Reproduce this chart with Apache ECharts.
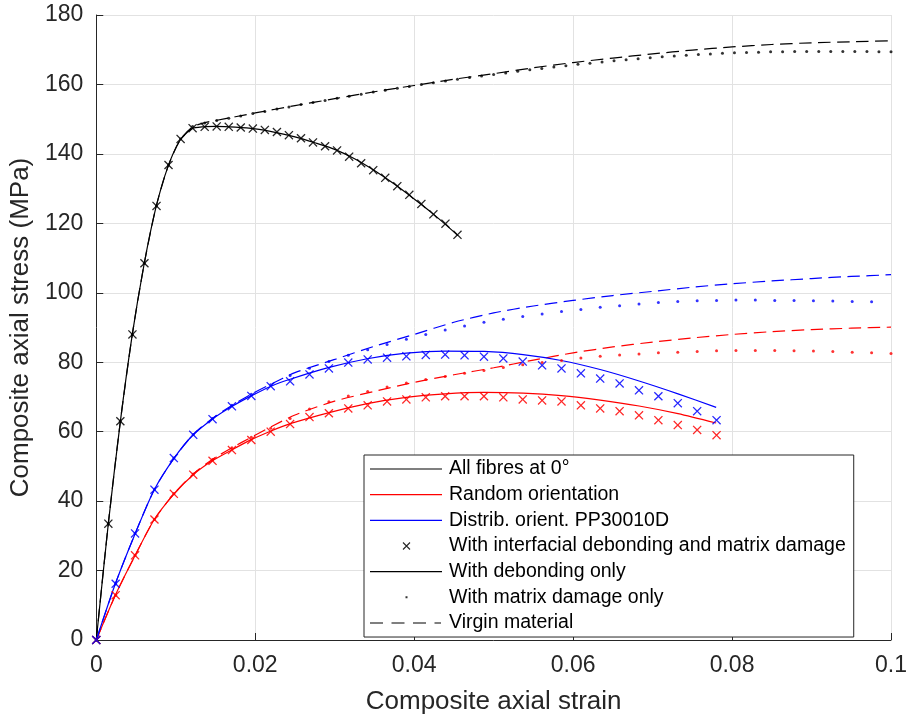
<!DOCTYPE html>
<html lang="en">
<head>
  <meta charset="UTF-8">
  <title>Composite axial stress vs strain</title>
  <script src="https://cdn.jsdelivr.net/npm/echarts@6/dist/echarts.min.js"></script>
  <style>html, body { margin: 0; padding: 0; background: #fff; }</style>
</head>
<body>
  <div id="app" style="width: 912px; height: 720px;"></div>
  <script>
    // strain sample points
    var xBlack = [0, 0.00152, 0.00303, 0.00455, 0.00606, 0.00758, 0.00909, 0.01061, 0.01212, 0.01364,
      0.01515, 0.01667, 0.01818, 0.0197, 0.02121, 0.02273, 0.02424, 0.02576, 0.02727, 0.02879,
      0.0303, 0.03182, 0.03333, 0.03485, 0.03636, 0.03788, 0.03939, 0.04091, 0.04242, 0.04394,
      0.04545, 0.04697, 0.04848, 0.05, 0.05152, 0.05303, 0.05455, 0.05606, 0.05758, 0.05909,
      0.06061, 0.06212, 0.06364, 0.06515, 0.06667, 0.06818, 0.0697, 0.07121, 0.07273, 0.07424,
      0.07576, 0.07727, 0.07879, 0.0803, 0.08182, 0.08333, 0.08485, 0.08636, 0.08788, 0.08939,
      0.09091, 0.09242, 0.09394, 0.09545, 0.09697, 0.09848, 0.1]
    var xColor = [0, 0.00244, 0.00488, 0.00732, 0.00976, 0.0122, 0.01463, 0.01707, 0.01951, 0.02195,
      0.02439, 0.02683, 0.02927, 0.03171, 0.03415, 0.03659, 0.03902, 0.04146, 0.0439, 0.04634,
      0.04878, 0.05122, 0.05366, 0.0561, 0.05854, 0.06098, 0.06341, 0.06585, 0.06829, 0.07073,
      0.07317, 0.07561, 0.07805, 0.08049, 0.08293, 0.08537, 0.0878, 0.09024, 0.09268, 0.09512,
      0.09756, 0.1]
    var xLineA = [0, 0.0015, 0.003, 0.0045, 0.006, 0.0075, 0.009, 0.0105, 0.012, 0.0135, 0.015, 0.0175,
      0.02, 0.0225, 0.025, 0.0275, 0.03, 0.0325, 0.035, 0.0375, 0.04, 0.0425, 0.0455]
    var xVirginBlack = [0, 0.0015, 0.003, 0.0045, 0.006, 0.0075, 0.009, 0.0105, 0.012, 0.0135, 0.015,
      0.0175, 0.02, 0.025, 0.03, 0.035, 0.04, 0.045, 0.05, 0.055, 0.06, 0.065, 0.07, 0.075, 0.08,
      0.085, 0.09, 0.095, 0.1]
    var xDebondColor = [0, 0.0024, 0.0049, 0.0073, 0.0098, 0.0122, 0.0146, 0.0171, 0.0195, 0.022, 0.0244,
      0.0293, 0.0341, 0.039, 0.0439, 0.0488, 0.0537, 0.0585, 0.0634, 0.0683, 0.0732, 0.078]
    var xVirginColor = [0, 0.0024, 0.0049, 0.0073, 0.0098, 0.0122, 0.0146, 0.0171, 0.0195, 0.022, 0.025,
      0.03, 0.035, 0.04, 0.045, 0.05, 0.055, 0.06, 0.065, 0.07, 0.075, 0.08, 0.085, 0.09, 0.095, 0.1]

    // all fibres at 0 deg
    var blackBoth = [0, 33.5, 63, 88, 108.5, 125, 136.8, 144.3, 147.4, 147.8, 147.9, 147.8, 147.6, 147.3,
      146.9, 146.3, 145.4, 144.5, 143.3, 142.2, 141, 139.2, 137.3, 135.3, 133.1, 130.7, 128.2, 125.6,
      122.6, 119.9, 116.7]
    var blackDebond = [0, 33.2, 62.4, 87.5, 108, 124.5, 136.2, 143.8, 147.2, 147.8, 147.9, 147.7, 147.2,
      146.2, 144.9, 143.2, 141.3, 138.6, 135.2, 131.3, 127, 122.5, 116.5]
    var blackMatrix = [0, 33.5, 63, 88, 108.5, 125, 136.8, 144.3, 147.9, 148.9, 149.6, 150.3, 150.9,
      151.6, 152.2, 152.9, 153.5, 154.2, 154.8, 155.4, 156.0, 156.6, 157.2, 157.8, 158.3, 158.9, 159.4,
      160.0, 160.5, 161.0, 161.5, 162.0, 162.4, 162.9, 163.3, 163.8, 164.2, 164.6, 165.0, 165.4, 165.8,
      166.1, 166.5, 166.8, 167.1, 167.4, 167.7, 168.0, 168.2, 168.4, 168.6, 168.8, 169.0, 169.1, 169.2,
      169.3, 169.4, 169.4, 169.5, 169.5, 169.5, 169.5, 169.5, 169.5, 169.5, 169.4, 169.4]
    var blackVirgin = [0, 33.2, 62.4, 87.5, 108, 124.5, 136.2, 143.8, 147.6, 148.9, 149.6, 150.7, 151.8,
      153.9, 155.9, 157.9, 159.7, 161.5, 163.1, 164.8, 166.3, 167.6, 168.8, 169.9, 170.8, 171.5, 172.0,
      172.3, 172.6]

    // random orientation
    var redBoth = [0, 12.9, 24.4, 34.7, 42.1, 47.6, 51.6, 54.7, 57.6, 60.0, 62.2, 64.2, 65.3, 66.7, 67.6,
      68.7, 69.3, 69.9, 70.2, 70.2, 70.2, 69.9, 69.3, 69.0, 68.7, 67.6, 66.7, 65.9, 64.7, 63.3, 61.9,
      60.5, 59.0]
    var redDebond = [0, 12.9, 24.4, 34.7, 42.1, 47.6, 51.6, 54.8, 57.7, 60.2, 62.3, 65.5, 68.1, 69.9,
      70.9, 71.3, 71.1, 70.4, 69.1, 67.4, 65.2, 62.5]
    var redMatrix = [0, 12.9, 24.4, 34.7, 42.2, 47.8, 52.0, 55.4, 58.4, 61.0, 63.8, 66.5, 68.6, 70.3,
      71.6, 72.9, 74.0, 75.0, 75.9, 76.8, 77.6, 78.5, 79.3, 79.9, 80.5, 81.2, 81.7, 82.1, 82.4, 82.7,
      82.9, 83.1, 83.3, 83.4, 83.4, 83.4, 83.3, 83.2, 83.1, 82.9, 82.7, 82.5]
    var redVirgin = [0, 12.9, 24.4, 34.7, 42.2, 47.8, 52.0, 55.4, 58.4, 61.4, 64.8, 68.8, 71.6, 74.2,
      76.4, 78.4, 80.6, 82.7, 84.4, 85.8, 87.0, 88.0, 88.8, 89.4, 89.8, 90.1]

    // distributed orientation PP30010D
    var blueBoth = [0, 16.2, 30.7, 43.3, 52.4, 59.1, 63.6, 67.3, 70.3, 73.1, 74.5, 76.5, 78.2, 79.9,
      80.8, 81.3, 81.7, 82.1, 82.2, 82.0, 81.6, 81.1, 80.2, 79.1, 78.2, 76.8, 75.3, 73.9, 71.9, 70.2,
      68.2, 65.9, 63.3]
    var blueDebond = [0, 16.2, 30.7, 43.3, 52.4, 59.1, 63.6, 67.3, 70.3, 73.1, 75.1, 78.5, 81, 82.6,
      83.2, 83.1, 82.2, 80.5, 77.9, 74.6, 70.9, 67]
    var blueMatrix = [0, 16.2, 30.7, 43.3, 52.4, 59.2, 63.8, 67.6, 70.8, 73.5, 76.2, 78.3, 80.2, 82.0,
      83.6, 85.1, 86.6, 88.0, 89.3, 90.4, 91.5, 92.4, 93.2, 93.9, 94.6, 95.2, 95.8, 96.3, 96.8, 97.2,
      97.5, 97.7, 97.8, 97.9, 97.9, 97.8, 97.8, 97.7, 97.6, 97.5, 97.4]
    var blueVirgin = [0, 16.2, 30.7, 43.3, 52.4, 59.2, 63.8, 67.6, 70.8, 73.7, 77.0, 80.8, 84.6, 88.0,
      91.5, 94.2, 96.2, 97.8, 99.2, 100.4, 101.6, 102.6, 103.4, 104.1, 104.7, 105.2]

    var xTicks = [0, 0.02, 0.04, 0.06, 0.08, 0.1]
    var legendNames = ['All fibres at 0°', 'Random orientation', 'Distrib. orient. PP30010D',
      'With interfacial debonding and matrix damage', 'With debonding only',
      'With matrix damage only', 'Virgin material']

    var font = "'Liberation Sans', Arial, sans-serif"
    var axisColor = '#262626'
    var crossSymbol = 'path://M0,1L1,0L5,4L9,0L10,1L6,5L10,9L9,10L5,6L1,10L0,9L4,5Z'

    // legend icons, box 74 x 14 (tiny corner marks fix the box size)
    var box = 'M0,0h0.01v0.01z M74,14h-0.01v-0.01z '
    var iconLine = 'path://' + box + 'M0,6.4H72V7.6H0Z'
    var iconDash = 'path://' + box + 'M0,6.4H13V7.6H0Z M21.5,6.4H34.5V7.6H21.5Z M43,6.4H56V7.6H43Z M64.5,6.4H71V7.6H64.5Z'
    var iconCross = 'path://' + box + 'M33.4,3.1L40.4,10.1L39.6,10.9L32.6,3.9Z M40.4,3.9L33.4,10.9L32.6,10.1L39.6,3.1Z'
    var iconDot = 'path://' + box + 'M35.5,6H37.5V8H35.5Z'

    function pairs(xs, ys) {
      var out = []
      for (var i = 0; i < ys.length; i++) out.push([xs[i], ys[i]])
      return out
    }

    function solid(name, color, xs, ys) {
      return {
        name: name, type: 'line', data: pairs(xs, ys), symbol: 'none', smooth: 0.25,
        color: color, lineStyle: { color: color, width: 1.2 }, z: 2
      }
    }
    function dashed(name, color, xs, ys) {
      return {
        name: name, type: 'line', data: pairs(xs, ys), symbol: 'none', smooth: 0.25,
        color: color, lineStyle: { color: color, width: 1.2, type: [12.5, 6.5] }, z: 2
      }
    }
    function crosses(name, color, xs, ys) {
      return {
        name: name, type: 'scatter', data: pairs(xs, ys), symbol: crossSymbol, symbolSize: 9,
        color: color, itemStyle: { color: color, opacity: 0.85 }, z: 4
      }
    }
    function dots(name, color, xs, ys) {
      return {
        name: name, type: 'scatter', data: pairs(xs, ys), symbol: 'circle', symbolSize: 3,
        color: color, itemStyle: { color: color }, z: 3
      }
    }

    var chart = echarts.init(document.getElementById('app'))
    var option = {
      animation: false,
      backgroundColor: '#fff',
      grid: { left: 96, right: 21, top: 15, bottom: 77 },
      xAxis: {
        type: 'value', min: 0, max: 0.1, interval: 0.02,
        name: 'Composite axial strain', nameLocation: 'middle', nameGap: 49,
        nameTextStyle: { fontSize: 26, color: axisColor, fontFamily: font },
        axisLine: { lineStyle: { color: axisColor, width: 1 } },
        axisTick: { inside: true, length: 7, lineStyle: { color: axisColor } },
        axisLabel: {
          margin: 14, fontSize: 23, color: axisColor, fontFamily: font,
          formatter: function (v) {
            for (var i = 0; i < xTicks.length; i++) if (Math.abs(v - xTicks[i]) < 1e-9) return String(xTicks[i])
            return ''
          }
        },
        splitLine: { show: true, lineStyle: { color: '#e2e2e2', width: 1 } }
      },
      yAxis: {
        type: 'value', min: 0, max: 180, interval: 20,
        name: 'Composite axial stress (MPa)', nameLocation: 'middle', nameGap: 59,
        nameTextStyle: { fontSize: 26, color: axisColor, fontFamily: font },
        axisLine: { show: true, lineStyle: { color: axisColor, width: 1 } },
        axisTick: { show: true, inside: true, length: 7, lineStyle: { color: axisColor } },
        axisLabel: { margin: 13, fontSize: 23, color: axisColor, fontFamily: font },
        splitLine: { show: true, lineStyle: { color: '#e2e2e2', width: 1 } }
      },
      legend: {
        orient: 'vertical', left: 364, top: 455,
        itemWidth: 74, itemHeight: 14, itemGap: 5.67,
        padding: [4, 8, 4, 6],
        borderColor: axisColor, borderWidth: 1, borderRadius: 0, backgroundColor: '#fff',
        selectedMode: false,
        symbolKeepAspect: true,
        itemStyle: { borderWidth: 0 },
        textStyle: { fontSize: 19.5, lineHeight: 20, color: '#000', fontFamily: font },
        data: [
          { name: legendNames[0], icon: iconLine },
          { name: legendNames[1], icon: iconLine },
          { name: legendNames[2], icon: iconLine },
          { name: legendNames[3], icon: iconCross },
          { name: legendNames[4], icon: iconLine },
          { name: legendNames[5], icon: iconDot },
          { name: legendNames[6], icon: iconDash }
        ]
      },
      series: [
        solid(legendNames[0], '#000000', xLineA, blackDebond),
        dashed(legendNames[6], '#000000', xVirginBlack, blackVirgin),
        dots(legendNames[5], '#000000', xBlack, blackMatrix),
        crosses(legendNames[3], '#000000', xBlack, blackBoth),

        solid(legendNames[1], '#ff0000', xDebondColor, redDebond),
        dashed('red virgin', '#ff0000', xVirginColor, redVirgin),
        dots('red matrix', '#ff0000', xColor, redMatrix),
        crosses('red both', '#ff0000', xColor, redBoth),

        solid(legendNames[2], '#0000ff', xDebondColor, blueDebond),
        dashed('blue virgin', '#0000ff', xVirginColor, blueVirgin),
        dots('blue matrix', '#0000ff', xColor, blueMatrix),
        crosses('blue both', '#0000ff', xColor, blueBoth),

        { name: legendNames[4], type: 'line', data: [], symbol: 'none', color: '#000000' }
      ]
    }
    chart.setOption(option)
  </script>
</body>
</html>
